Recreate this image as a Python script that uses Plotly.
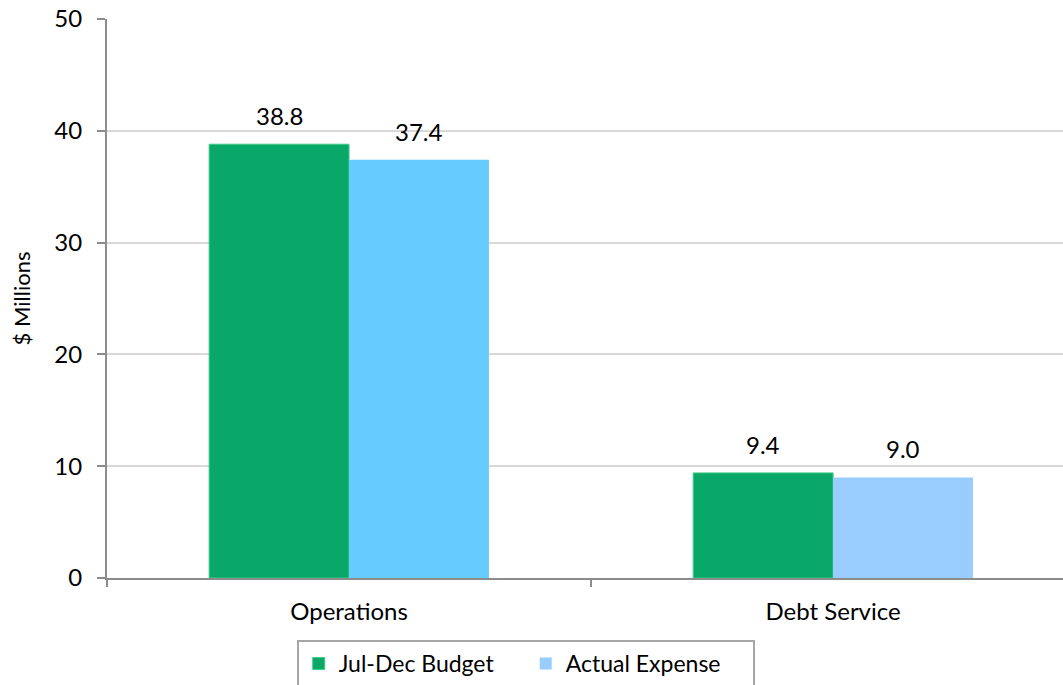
import plotly.graph_objects as go

categories = ["Operations", "Debt Service"]
budget = [38.8, 9.4]
actual = [37.4, 9.0]
budget_color = "#0AA868"
actual_colors = ["#66CCFF", "#99CCFF"]

FONT = "Lato"
TXT = "#000000"
FS = 24

fig = go.Figure()
fig.add_trace(go.Bar(
    name="Jul-Dec Budget", x=categories, y=budget,
    marker=dict(color=budget_color, line=dict(color="#3CCB85", width=1)),
    offsetgroup="budget",
))
fig.add_trace(go.Bar(
    name="Actual Expense", x=categories, y=actual,
    marker=dict(color=actual_colors, line=dict(width=0)),
    offsetgroup="actual", showlegend=False,
))
# zero-height companion trace that carries the legend swatch for the actual series
fig.add_trace(go.Bar(
    name="Actual Expense", x=categories, y=[0] * len(categories),
    marker=dict(color=actual_colors[::-1], line=dict(width=0)),
    offsetgroup="actual", hoverinfo="skip",
))

# value labels above each bar
n = len(categories)
half = (1 - 0.422) / 4
for i in range(n):
    for val, dx in ((budget[i], -half), (actual[i], half)):
        fig.add_annotation(
            x=i + dx, y=val, text=f"{val:.1f}", showarrow=False,
            xref="x", yref="y", yanchor="bottom", yshift=12,
            font=dict(family=FONT, size=FS, color=TXT),
        )

fig.update_layout(
    width=1063, height=685,
    margin=dict(l=107, r=0, t=19, b=107, autoexpand=False),
    paper_bgcolor="white", plot_bgcolor="white",
    barmode="group", bargap=0.422, bargroupgap=0,
    font=dict(family=FONT, size=FS, color=TXT),
    showlegend=True,
    legend=dict(
        orientation="h", x=0.438, xanchor="center", y=-0.111, yanchor="top",
        bordercolor="#A6A6A6", borderwidth=2, bgcolor="white",
        font=dict(family=FONT, size=FS - 1, color=TXT),
        itemwidth=30, traceorder="normal", entrywidth=182,
    ),
)
fig.update_xaxes(
    type="category", range=[-0.5, 1.475],
    showline=True, linecolor="#8C8C8C", linewidth=2,
    ticks="outside", tickson="boundaries", ticklen=7, tickcolor="#8C8C8C", tickwidth=2,
    showgrid=False, zeroline=False,
    tickfont=dict(family=FONT, size=FS, color=TXT),
    ticklabelstandoff=11,
)
fig.update_yaxes(
    range=[0, 50], dtick=10, tick0=0,
    showline=True, linecolor="#8C8C8C", linewidth=2,
    ticks="outside", ticklen=8, tickcolor="#8C8C8C", tickwidth=2,
    showgrid=True, gridcolor="#D9D9D9", gridwidth=2,
    zeroline=False,
    tickfont=dict(family=FONT, size=FS, color=TXT),
    ticklabelstandoff=10,
    title=dict(text="$ Millions", font=dict(family=FONT, size=22, color=TXT), standoff=18),
)

fig.write_html("out.html")
